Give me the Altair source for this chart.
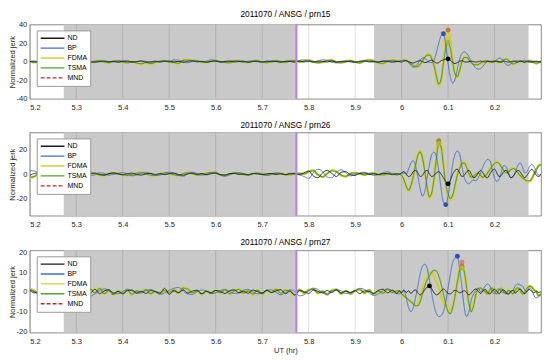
import altair as alt
import pandas as pd

FONT = "Liberation Sans"

SERIES = ["ND", "BP", "FDMA", "TSMA", "MND"]
COLORS = ["#1a1a1a", "#3E6FC8", "#D6CE34", "#5E9E2C", "#B03030"]
DASHES = [[1, 0], [1, 0], [1, 0], [1, 0], [4, 2]]
MARKER_COLORS = ["#000000", "#2E4FB8", "#B8802A", "#A8B830", "#D98080"]

X_TICKS = [5.2, 5.3, 5.4, 5.5, 5.6, 5.7, 5.8, 5.9, 6.0, 6.1, 6.2]
GRAY_START = [5.273, 5.9405]
GRAY_END = [5.7736, 6.2732]
EVENT_X = [5.7736]

X_QUIET = [5.20, 5.21, 5.22, 5.23, 5.24, 5.25, 5.26, 5.27, 5.28, 5.29,
           5.30, 5.31, 5.32, 5.33, 5.34, 5.35, 5.36, 5.37, 5.38, 5.39,
           5.40, 5.41, 5.42, 5.43, 5.44, 5.45, 5.46, 5.47, 5.48, 5.49,
           5.50, 5.51, 5.52, 5.53, 5.54, 5.55, 5.56, 5.57, 5.58, 5.59,
           5.60, 5.61, 5.62, 5.63, 5.64, 5.65, 5.66, 5.67, 5.68, 5.69,
           5.70, 5.71, 5.72, 5.73, 5.74, 5.75, 5.76, 5.77, 5.78, 5.79,
           5.80, 5.81, 5.82, 5.83, 5.84, 5.85, 5.86, 5.87, 5.88, 5.89,
           5.90, 5.91, 5.92, 5.93, 5.94, 5.95, 5.96, 5.97, 5.98, 5.99]
X_ACTIVE = [5.995, 6.000, 6.005, 6.010, 6.015, 6.020, 6.025, 6.030, 6.035, 6.040,
            6.045, 6.050, 6.055, 6.060, 6.065, 6.070, 6.075, 6.080, 6.085, 6.090,
            6.095, 6.100, 6.105, 6.110, 6.115, 6.120, 6.125, 6.130, 6.135, 6.140,
            6.145, 6.150, 6.155, 6.160, 6.165, 6.170, 6.175, 6.180, 6.185, 6.190,
            6.195, 6.200, 6.205, 6.210, 6.215, 6.220, 6.225, 6.230, 6.235, 6.240,
            6.245, 6.250, 6.255, 6.260, 6.265, 6.270, 6.275, 6.280, 6.285, 6.290,
            6.295, 6.300]
X_ALL = X_QUIET + X_ACTIVE

# ---------------- panel 1 : prn15 ----------------
P1_ND = [0, 0.5, -0.5, 0.3, 0, -0.4, 0.5, 0.2, -0.3, 0.4,
         -0.5, 0.3, 0.6, -0.2, -0.5, 0.2, 0.5, -0.3, 0.4, -0.6,
         0.3, 0.7, -0.4, 0, 0.6, -0.5, -0.2, 0.5, -0.4, 0.3,
         0.6, -0.3, 0.2, -0.6, 0.4, 0.7, -0.2, 0.3, -0.5, 0.2,
         0.5, -0.4, 0.3, 0.6, -0.3, 0.1, 0.5, -0.5, 0.2, 0.4,
         -0.3, 0.5, -0.2, 0.3, -0.6, 0.4, 0.2, -0.4, 0.6, -0.2,
         0.3, -0.5, 0.4, 0.2, -0.3, 0.5, -0.4, 0.3, -0.2, 0.4,
         -0.5, 0.3, 0.5, -0.3, 0.2, -0.4, 0.5, 0.3, -0.6, 0.2,
         0, -0.5, 0.5, 1, 0, -1, -1.5, -0.5, 0.5, 1,
         0, -1, -0.5, 1, 1.5, 0, -1.5, -1, 1, 2,
         2.5, 3, 1.5, -1, -2, -1, 0.5, 1, 0, -0.5,
         0, 0.5, 0, -0.5, 0, 0.5, 0, -0.5, 0.5, 0,
         -0.5, 0, 0.5, 0, -0.5, 0.5, 0, -0.5, 0, 0.5,
         0, -0.5, 0.5, 0, -0.5, 0.5, 0, -0.5, 0, 0.5,
         0, -0.5]
P1_BP = [0.3, -0.5, 0.2, 0.8, -0.3, -0.8, 0.4, 0.9, 0.2, -0.6,
         -0.4, 0.5, 0.9, 0.3, -0.7, -0.2, 0.6, 0.2, -0.5, 0.3,
         0.7, -0.2, -0.9, 0.1, 0.8, 0.3, -0.6, -0.2, 0.5, 0.9,
         -0.3, 1.8, 1.5, -0.4, -1.2, 0.2, 0.8, -0.3, 0.6, 1.9,
         1.2, -0.6, -0.9, 0.3, 0.9, 0.1, -0.7, 0.4, 0.8, -0.2,
         -0.8, 0.2, 0.9, 0.1, -0.6, 0.3, 0.7, -0.4, 1.2, 1.8,
         0.9, -0.5, 0.6, 2.0, 1.2, -0.8, -1.2, 0.2, 0.8, -0.3,
         -0.9, 0.4, 1.0, 0.2, -0.6, -0.2, 0.7, 1.0, 0.3, -0.2,
         0.5, 1, 1.5, 1, -1, -4, -6, -5, -2, 2,
         4, 3.5, 1, -1, -1, 2, 10, 20, 28, 30,
         18, -2, -17, -23, -19, -8, 3, 9, 10.5, 9,
         5, 0, -4, -7, -8, -7.5, -5, -2, 0, 0.5,
         0, 0.5, 2, 4, 3, 0, -3, -4, -2.5, 0,
         1, 0.5, 0, 1, 1.5, 0, -1, 0, 0.5, 0,
         -0.5, 0]
P1_FDMA = [0.5, -0.8, 0.6, 1.0, -0.5, -1.2, 0.4, 1.1, -0.3, -0.9,
           0.8, 1.3, -0.6, -1.0, 0.5, 1.2, -0.4, -1.3, 0.6, 1.0,
           -0.5, -1.5, 0.3, -1.8, -2.6, -1.2, -2.4, -1.0, 0.4, 0.9,
           -0.6, -1.2, -2.0, 1.8, 2.0, 1.5, 0.8, -0.5, -1.1, 0.3,
           1.3, 0.2, -0.9, -1.4, 0.6, 1.2, -0.2, -1.0, 0.5, 1.1,
           -0.6, -1.3, 0.4, 1.2, 0.1, -1.0, 0.7, 1.4, -0.4, 0.6,
           1.5, 0.2, -1.3, -0.5, 1.2, 1.6, -0.6, -1.2, 0.4, 1.0,
           -0.3, -1.5, 0.8, 1.8, 1.0, -1.6, -2.0, 0.5, 1.8, 1.0,
           0, 1, 2, 1.5, 0, -2, -4, -6, -5.5, -3,
           1, 5, 7.5, 8, 4, -4, -17, -26, -20, 0,
           24, 34, 22, 0, -14, -17, -10, 0, 5, 5,
           2, -1, -3, -4, -3.5, -2, 0, 1, 0.5, -0.5,
           0, 1, 0.5, -1, 0, 2, 3, 2, -1, -3,
           -2, 0, 1, 0.5, -1, 0, 1, 0.5, -1, -2,
           -1, 0]
P1_TSMA = [0.4, -0.7, 0.5, 0.9, -0.4, -1.0, 0.5, 1.0, -0.2, -0.8,
           0.7, 1.1, -0.5, -0.9, 0.6, 1.0, -0.3, -1.1, 0.5, 0.9,
           -0.4, -1.3, 0.2, -1.5, -2.2, -1.0, -2.0, -0.8, 0.3, 0.8,
           -0.5, -1.0, -1.7, 1.5, 1.8, 1.3, 0.7, -0.4, -0.9, 0.3,
           1.1, 0.2, -0.8, -1.2, 0.5, 1.0, -0.1, -0.9, 0.4, 1.0,
           -0.5, -1.1, 0.3, 1.0, 0.2, -0.8, 0.6, 1.2, -0.3, 0.5,
           1.3, 0.2, -1.1, -0.4, 1.0, 1.4, -0.5, -1.0, 0.3, 0.9,
           -0.2, -1.3, 0.7, 1.5, 0.9, -1.4, -1.7, 0.4, 1.5, 0.9,
           0.5, 1, 1.5, 1, -0.5, -2.5, -4, -5.5, -5, -2.5,
           1, 4.5, 7, 7, 3, -5, -16, -24, -19, -2,
           14, 21, 14, -1, -13, -16, -9, 0, 4.5, 4.5,
           2, -1, -3, -3.5, -3, -1.5, 0, 1, 0.5, 0,
           0.5, 1, 0, -1, 0.5, 2, 2.5, 1.5, -1, -2.5,
           -1.5, 0, 1, 0, -1, 0.5, 1, 0, -1, -1.5,
           -0.5, 0.5]
P1_MARK_X = [6.10, 6.09, 6.10, 6.10, 6.10]
P1_MARK_Y = [3, 30, 34, 21, 34]

# ---------------- panel 2 : prn26 ----------------
P2_ND = [-1, 0.5, 1, 0.3, -0.5, 0.2, 0.8, -0.3, -0.6, 0.4,
         0.6, -0.5, -1, 0.3, 0.8, -0.2, -0.7, 0.4, 0.9, 0,
         -0.6, 0.3, 0.7, -0.4, -0.8, 0.2, 0.6, -0.3, 0.4, -0.5,
         0.3, 0.8, -0.4, -0.9, 0.2, 0.7, -0.2, 0.5, -0.6, 0.3,
         0.8, -0.5, -0.8, 0.4, 0.6, -0.3, 0.2, -0.5, 0.4, 0.1,
         -0.4, 0.3, 0.5, -0.3, 0.2, -0.4, 0.6, 0.2, -0.5, 1,
         2.5, -1.5, -3, 1, 3, 0.5, -2, 1.5, 2, -0.5,
         -1, 0.5, 0.8, -0.3, 0.2, -0.4, 0.5, 0.3, -0.5, 0.2,
         0, 1, 2, 0, -2, -1, 2, 3, 1, -2,
         -1, 2, 3, 0, -2, -1, 1, 2, 0, -3,
         -6, -8, -5, 0, 3, 4, 1, -2, -1, 2,
         3, 0, -3, -2, 1, 3, 1, -2, -3, 0,
         3, 4, 1, -2, -1, 2, 3, 0, -3, -2,
         1, 3, 2, -1, -3, -1, 2, 4, 2, -1,
         -2, 0]
P2_BP = [3, 2.5, 0.5, -1.5, -1, 0.5, 1.5, 0.5, -1, -0.5,
         0.8, 1.5, 0, -1.2, -0.5, 1, 0.5, -0.8, -0.3, 0.6,
         1.2, 0.2, -1.4, -0.6, 0.8, 1.5, 0.3, -1.1, -0.8, 0.5,
         1.6, 0.6, -1, -1.8, 0.2, 1.5, 0.4, -0.7, -0.3, 0.9,
         1.5, -0.5, -1.8, -0.6, 0.8, 1.3, 0.2, -0.9, 0.3, 0.8,
         -0.5, -1.2, 0.3, 1, 0.4, -0.6, 0.2, 0.8, -0.5, -2,
         -3.5, 1, 4, 2, -2.5, -3, 1.5, 3.5, 1, -1.5,
         -0.5, 0.8, 1.5, 0.2, -1, -0.5, 1, 1.8, 0.3, -0.8,
         0, 0.5, 1, 0, 4, 9, 11, 7, -2, -12,
         -18, -14, -3, 8, 16, 18, 14, 3, -12, -23,
         -25, -18, -5, 8, 16, 19, 16, 6, -3, -7,
         -8, -6, -5, -5.5, -3, 1, 6, 10, 12, 11,
         4, -3, -6, -4, 2, 7, 6, 1, -3, -2,
         2, 7, 9, 6, 1, 2, 6, 8, 6, 2,
         -1, 0]
P2_FDMA = [-3, -2, 0.5, 1.5, 0.8, -0.6, -1.2, 0.2, 1.0, 0.4,
           -0.5, -1, 0.5, 1.2, 0.3, -0.8, -1.2, 0.2, 1, 0.6,
           -0.5, -1.2, -0.3, 0.8, 1.2, 0.2, -1, -1.3, 0.1, 0.9,
           0.6, -0.7, -1.2, 0.3, 1.1, 0.4, -0.8, -0.5, 0.7, 1.5,
           0.8, -0.6, -1, 0.2, 0.9, 0.5, -0.6, -0.8, 0.4, 0.8,
           0.2, -0.7, -0.3, 0.6, 0.8, -0.4, -0.6, 0.3, 0.6, 0.2,
           2, 3, -0.5, -2.5, 0.5, 3, 2, -1, -2, 0.5,
           1, 0.2, -0.6, 0.4, 0.8, -0.2, -0.8, 0.3, 0.6, 0.1,
           0, -1, -5, -11, -14, -10, -2, 8, 16, 19,
           14, 2, -12, -19.5, -16, -3, 14, 27, 24, 8,
           -8, -17, -21, -18, -10, -1, 5, 9, 10, 6,
           0, -3, -2, 0, 1, -1, -3, -2, 1, 4,
           7, 9, 10, 9, 6, 3, 1, 2, 4, 5,
           4, 1, -1, -3, -5, -6, -6, -4, 0, 4,
           7, 8]
P2_TSMA = [-2.7, -1.8, 0.4, 1.3, 0.7, -0.5, -1.1, 0.2, 0.9, 0.4,
           -0.4, -0.9, 0.5, 1.1, 0.3, -0.7, -1.1, 0.2, 0.9, 0.5,
           -0.4, -1.1, -0.3, 0.7, 1.1, 0.2, -0.9, -1.2, 0.1, 0.8,
           0.5, -0.6, -1.1, 0.3, 1.0, 0.4, -0.7, -0.4, 0.6, 1.3,
           0.7, -0.5, -0.9, 0.2, 0.8, 0.4, -0.5, -0.7, 0.4, 0.7,
           0.2, -0.6, -0.3, 0.5, 0.7, -0.4, -0.5, 0.3, 0.5, 0.2,
           1.8, 2.7, -0.4, -2.2, 0.4, 2.7, 1.8, -0.9, -1.8, 0.4,
           0.9, 0.2, -0.5, 0.4, 0.7, -0.2, -0.7, 0.3, 0.5, 0.1,
           0, -1, -4.5, -10, -13, -9.5, -2, 7, 15, 18,
           13, 2, -11, -18.5, -15, -3, 13, 25, 22, 7,
           -8, -16, -20, -17, -9, -1, 4.5, 8.5, 9, 5.5,
           0, -2.5, -2, 0, 1, -1, -2.5, -1.5, 1, 3.5,
           6.5, 8.5, 9.5, 8.5, 5.5, 3, 1, 2, 3.5, 4.5,
           3.5, 1, -1, -3, -4.5, -5.5, -5.5, -3.5, 0, 3.5,
           6.5, 7.5]
P2_MARK_X = [6.10, 6.095, 6.08, 6.08, 6.08]
P2_MARK_Y = [-8, -25, 27, 25, 27]

# ---------------- panel 3 : prn27 ----------------
P3_ND = [0.8, -0.5, 0.3, -1, 0.6, 1.2, -0.4, 0.5, -1.2, 0.3,
         1, -0.8, 0.5, -0.6, 1.3, -0.9, 0.4, 1.1, -0.7, 0.2,
         -1, 0.6, 0.9, -0.5, 0.3, -0.8, 0.7, 0.2, -0.6, 1.8,
         -1.2, 0.5, -0.3, 1, -0.6, 0.4, 0.8, -0.9, 0.3, -0.4,
         0.7, 0.2, -0.8, 0.6, 1, -0.5, 0.3, -0.7, 0.9, 0.1,
         -0.6, 0.8, -0.3, 0.5, 1.1, -0.9, 0.4, -1.6, 0.6, 0.2,
         -0.8, 0.9, 0.3, -0.5, 0.7, -0.3, 1, -0.6, 0.4, -0.2,
         0.6, -0.9, 0.5, 0.2, -0.7, 0.8, 1.3, -0.5, 0.9, -0.8,
         0.5, -0.5, 0.8, -0.3, 0.6, -0.8, 0.4, 1, -0.5, -1.5,
         -0.5, 1, 2.5, 3, 1.5, -0.5, -1.5, -1, 0.5, 1.5,
         0.5, -0.8, -1, 0, 0.8, 0.3, -0.5, 0, 0.6, -0.4,
         -1.5, -0.5, 0.8, 1.5, 0.3, -0.8, 0.5, 1.2, -0.3, -1,
         0.4, 1.3, 0.2, -0.9, 0.5, 1, -0.5, -1.2, 0.3, 0.8,
         -0.6, 0.5, 1.5, 0.2, -1, 0.6, 1.2, 0.3, -0.5, 0.4,
         -0.3, 0.2]
P3_BP = [1, 0, -1, -0.5, 0.8, 1.5, 0.5, -0.8, -1.2, 0,
         1.2, 0.8, -0.6, -2.2, -1, 0.6, 1.5, 0.8, -0.5, -1,
         0.2, 1.3, 0.4, -0.8, -0.5, 0.7, 1.2, 0, -1.2, -0.6,
         0.8, 1.8, 2.2, 0.5, -1, -1.3, 0, 1, 0.4, -0.8,
         -0.5, 0.7, 1.1, 0.2, -0.8, -0.3, 0.9, 1.2, 0, -1,
         -0.5, 0.8, 1, -0.3, -1.5, -0.5, 1, 0.3, -2, -1.5,
         0.5, 1.8, 1.2, -0.5, -1.2, 0, 1, 0.5, -0.8, -0.4,
         0.6, 1.8, 1.2, -0.5, -1.8, -1, 0.6, 1.5, 0.5, -1,
         -1, 0, 1, -3, -8, -10, -8, -3, 3, 9,
         13, 14, 12, 6, -1, -7, -11, -12.5, -12, -10,
         -5, 2, 9, 15, 17, 18, 11, 2, -8, -12.5,
         -10, -4, -1, 1, 2, 0, 1, 3, 4, 3,
         0, -1, 1, 1.5, 0, -0.5, 0, -1, 0, 1,
         3, 4, 3.5, 3, 1, 0, 2, 1, -2, -3,
         -2.5, -1]
P3_FDMA = [1.5, 0.5, -1.2, 0.8, -0.5, 1.2, -1.0, 0.6, -1.5, 0.4,
           1.2, -1.3, 0.9, 1.8, -0.6, 2.0, -1.0, 0.7, -1.6, 0.5,
           -0.8, 1.0, -1.5, 0.6, -0.3, 1.2, -1.1, 0.2, -0.9, 0.8,
           -0.4, 1.1, -0.7, 2.2, 1.5, -0.5, 0.6, -1.3, 0.4, -1.0,
           0.8, -0.6, 1.3, -1.1, 0.5, 1.4, -0.8, 0.6, -1.5, 0.9,
           -1.2, 0.7, -0.4, 1.6, -0.8, 1.0, 0.3, -1.8, 1.2, -0.5,
           0.9, 1.6, -0.7, 0.4, -1.4, 0.8, 1.2, -0.9, 0.5, -1.1,
           0.7, 1.3, -0.6, 1.0, -1.2, 0.5, -0.8, 1.5, -0.4, 0.6,
           0.5, -1, -2, -3, -4, -5, -6, -7, -6, -3,
           1, 5, 8, 10, 10, 8, 5, 2, -2, -5,
           -7, -8.5, -9, -7, -2, 5, 11, 13, 10, 2,
           -6, -9, -6, -1, 1, 2, 1, 0, -1, 1,
           2, 0, -1, 1, 2, 0, -1, 1, 0, -1,
           1, 2, 1, -1, 0, 2, 3, 2.5, 1, 0,
           -2, -1]
P3_TSMA = [1.2, 0.3, -1.0, 0.6, -0.4, 1.0, -0.8, 0.5, -1.2, 0.3,
           1.0, -1.1, 0.7, 1.5, -0.5, 1.7, -0.8, 0.6, -1.3, 0.4,
           -0.6, 0.8, -1.2, 0.5, -0.2, 1.0, -0.9, 0.2, -0.7, 0.7,
           -0.3, 0.9, -0.6, 1.9, 1.3, -0.4, 0.5, -1.1, 0.3, -0.8,
           0.7, -0.5, 1.1, -0.9, 0.4, 1.2, -0.7, 0.5, -1.2, 0.8,
           -1.0, 0.6, -0.3, 1.3, -0.7, 0.8, 0.2, -1.5, 1.0, -0.4,
           0.8, 1.3, -0.6, 0.3, -1.2, 0.7, 1.0, -0.8, 0.4, -0.9,
           0.6, 1.1, -0.5, 0.8, -1.0, 0.4, -0.7, 1.2, -0.3, 0.5,
           0.5, -1, -2, -3, -4, -5, -6, -7, -7, -5,
           -1, 3, 6, 8, 10, 11, 10.5, 8, 4, -1,
           -6, -10, -11, -8, -2, 5, 11, 13, 10, 2,
           -6, -10, -7, -1, 1.5, 2, 1, 0, -1, 1,
           2, 0, -1, 1, 1.5, 0, -1, 0.8, 0, -1,
           1, 2, 1, -1, 0, 1.8, 2.8, 2.5, 1, 0,
           -1.8, -1]
P3_MARK_X = [6.06, 6.12, 6.13, 6.13, 6.13]
P3_MARK_Y = [3, 18, 13, 12, 15]

TITLES = ["2011070 / ANSG / prn15", "2011070 / ANSG / prn26", "2011070 / ANSG / prn27"]

GRAY = "#C9C9C9"
TICK_FS = 7.6
TITLE_FS = 8.4


def panel(title, nd, bp, fdma, tsma, mark_x, mark_y, ydom, yticks, height, xtitle):
    xscale = alt.Scale(domain=[5.2, 6.3], nice=False, zero=False)
    yscale = alt.Scale(domain=ydom, nice=False, zero=False)
    xaxis = alt.Axis(values=X_TICKS, labelExpr="'' + datum.value", grid=False, ticks=False,
                     domain=False, labelFontSize=TICK_FS, labelPadding=5,
                     title=xtitle if xtitle else None, titleFontSize=TICK_FS,
                     titleFontWeight="normal", titlePadding=2)
    yaxis = alt.Axis(values=yticks, labelExpr="'' + datum.value", grid=False, ticks=False,
                     domain=False, labelFontSize=TICK_FS, labelPadding=3,
                     title="Normalized jerk", titleFontSize=TICK_FS,
                     titleFontWeight="normal", titleX=-13)

    def XE(f):
        return alt.X(f, type="quantitative", scale=xscale, axis=xaxis)

    def YE(f):
        return alt.Y(f, type="quantitative", scale=yscale, axis=yaxis)

    legend = alt.Legend(orient="none", legendX=7, legendY=6, title=None,
                        symbolType="stroke", symbolSize=576, symbolStrokeWidth=1.4,
                        labelFontSize=7, labelFont=FONT, labelColor="#000000",
                        fillColor="white", strokeColor="#9a9a9a", padding=3,
                        rowPadding=0, clipHeight=9.7, labelOffset=2)
    cscale = alt.Scale(domain=SERIES, range=COLORS)
    dscale = alt.Scale(domain=SERIES, range=DASHES)

    gray = alt.Chart(pd.DataFrame({"x": GRAY_START, "x2": GRAY_END})).mark_rect(
        color=GRAY).encode(x=XE("x"), x2="x2:Q")
    grid = alt.Chart(pd.DataFrame({"x": X_TICKS})).mark_rule(
        color="#262626", opacity=0.15, strokeWidth=1).encode(x=XE("x"))
    event = alt.Chart(pd.DataFrame({"x": EVENT_X})).mark_rule(
        color="#B77FE3", strokeWidth=2).encode(x=XE("x"))

    widths = {"ND": 0.9, "BP": 0.9, "FDMA": 2.4, "TSMA": 1.1, "MND": 1.0}
    vals = {"ND": nd, "BP": bp, "FDMA": fdma, "TSMA": tsma, "MND": fdma}
    layers = [gray, grid]
    for name in ["MND", "FDMA", "TSMA", "BP", "ND"]:
        df = pd.DataFrame({"x": X_ALL, "y": vals[name], "series": [name] * len(X_ALL)})
        layers.append(
            alt.Chart(df).mark_line(strokeWidth=widths[name], interpolate="monotone", clip=True)
            .encode(x=XE("x"), y=YE("y"),
                    color=alt.Color("series:N", scale=cscale, legend=legend),
                    strokeDash=alt.StrokeDash("series:N", scale=dscale, legend=legend))
        )
    layers.append(event)
    mdf = pd.DataFrame({"x": mark_x, "y": mark_y, "series": SERIES})
    order_df = mdf.iloc[[4, 2, 3, 1, 0]]
    layers.append(
        alt.Chart(order_df).mark_circle(size=24, opacity=1).encode(
            x=XE("x"), y=YE("y"),
            fill=alt.Fill("series:N", scale=alt.Scale(domain=SERIES, range=MARKER_COLORS), legend=None))
    )
    return alt.layer(*layers).properties(
        width=516, height=height,
        title=alt.TitleParams(title, fontSize=TITLE_FS, fontWeight="normal", font=FONT,
                              color="#000000", offset=2))


p1 = panel(TITLES[0], P1_ND, P1_BP, P1_FDMA, P1_TSMA, P1_MARK_X, P1_MARK_Y,
           [-40, 40], [-40, -20, 0, 20, 40], 75, None)
p2 = panel(TITLES[1], P2_ND, P2_BP, P2_FDMA, P2_TSMA, P2_MARK_X, P2_MARK_Y,
           [-34, 34], [-20, 0, 20], 84, None)
p3 = panel(TITLES[2], P3_ND, P3_BP, P3_FDMA, P3_TSMA, P3_MARK_X, P3_MARK_Y,
           [-20.6, 21], [-20, -10, 0, 10, 20], 83, "UT (hr)")

chart = (
    alt.vconcat(p1, p2, p3, spacing=9)
    .resolve_scale(x="independent", y="independent", color="independent",
                   strokeDash="independent", fill="independent")
    .resolve_legend(color="independent", strokeDash="independent")
    .configure_view(stroke="#6a6a6a", strokeWidth=0.8)
    .configure_axis(labelFont=FONT, titleFont=FONT, labelColor="#262626", titleColor="#262626")
    .configure_title(font=FONT)
    .properties(padding={"left": 0, "top": 0, "right": 0, "bottom": 0}, background="white")
)

chart.save("out.html", embed_options={"renderer": "svg", "actions": False})
